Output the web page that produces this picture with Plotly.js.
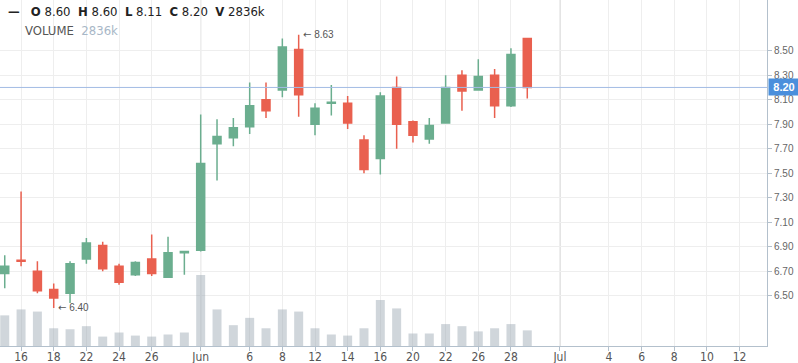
<!DOCTYPE html>
<html>
<head>
<meta charset="utf-8">
<script src="https://cdn.plot.ly/plotly-3.0.1.min.js"></script>
<style>
html,body{margin:0;padding:0;background:#fff;}
#chart{width:798px;height:363px;}
</style>
</head>
<body>
<div id="chart"></div>
<script>
// ---- data ----
const dates = ['2017-05-15','2017-05-16','2017-05-17','2017-05-18','2017-05-19','2017-05-22','2017-05-23','2017-05-24','2017-05-25','2017-05-26','2017-05-30','2017-05-31','2017-06-01','2017-06-02','2017-06-05','2017-06-06','2017-06-07','2017-06-08','2017-06-09','2017-06-12','2017-06-13','2017-06-14','2017-06-15','2017-06-16','2017-06-19','2017-06-20','2017-06-21','2017-06-22','2017-06-23','2017-06-26','2017-06-27','2017-06-28','2017-06-29'];
const futureDates = ['2017-06-30','2017-07-01','2017-07-02','2017-07-03','2017-07-04','2017-07-05','2017-07-06','2017-07-07','2017-07-08','2017-07-09','2017-07-10','2017-07-11','2017-07-12','2017-07-13','2017-07-14'];
const open  = [6.68,6.79,6.70,6.55,6.52,6.80,6.91,6.74,6.67,6.80,6.65,6.85,6.87,7.74,7.79,7.88,8.10,8.18,8.51,7.90,8.07,8.07,7.77,7.62,8.20,7.92,7.78,7.91,8.30,8.18,8.30,8.05,8.60];
const high  = [6.83,7.35,6.78,6.60,6.78,6.97,6.94,6.76,6.78,7.00,6.98,6.86,7.98,7.94,7.95,8.24,8.24,8.60,8.63,8.07,8.22,8.13,7.81,8.16,8.29,7.93,7.95,8.30,8.34,8.43,8.35,8.52,8.60];
const low   = [6.56,6.74,6.52,6.40,6.44,6.76,6.70,6.59,6.66,6.66,6.65,6.67,6.86,7.44,7.72,7.82,7.95,8.12,7.96,7.81,7.97,7.86,7.50,7.49,7.70,7.75,7.74,7.91,8.01,8.18,7.95,8.04,8.11];
const close = [6.74,6.78,6.54,6.48,6.76,6.93,6.72,6.61,6.77,6.68,6.85,6.86,7.58,7.80,7.87,8.05,8.01,8.53,8.14,8.03,8.08,7.91,7.53,8.13,7.90,7.81,7.89,8.20,8.17,8.29,8.05,8.47,8.20];
const volumeK = [5560,6640,6250,3220,3040,3600,1710,2450,1890,1710,2090,2450,12890,6640,3780,5110,3220,6640,6250,3220,2090,1890,3220,8350,6820,2270,2270,3980,3600,2650,3220,3980,2836];
const tickDates  = ['2017-05-16','2017-05-18','2017-05-22','2017-05-24','2017-05-26','2017-06-01','2017-06-06','2017-06-08','2017-06-12','2017-06-14','2017-06-16','2017-06-20','2017-06-22','2017-06-26','2017-06-28','2017-07-01','2017-07-04','2017-07-06','2017-07-08','2017-07-10','2017-07-12'];
const tickLabels = ['16','18','22','24','26','Jun','6','8','12','14','16','20','22','26','28','Jul','4','6','8','10','12'];
const monthStarts = ['2017-06-01','2017-07-01'];
const yTicks = [6.5,6.7,6.9,7.1,7.3,7.5,7.7,7.9,8.1,8.3,8.5];

// ---- styling ----
const GREEN = '#6bae8f', RED = '#e9604f';
const allDates = dates.concat(futureDates);
const n = dates.length - 1;
const fmt = v => v.toFixed(2);

let iMax = 0, iMin = 0;
for (let i = 0; i < high.length; i++) { if (high[i] > high[iMax]) iMax = i; if (low[i] < low[iMin]) iMin = i; }

const narrow = '"Liberation Sans Narrow", "DejaVu Sans Condensed", Arial, sans-serif';
const sans = '"Liberation Sans", Arial, sans-serif';
const arrow = '<span style="font-family:\'DejaVu Sans\'">←</span>\u00a0';

const traces = [
  { type: 'scatter', x: allDates, y: allDates.map(() => null), mode: 'lines',
    hoverinfo: 'skip', showlegend: false },
  { type: 'candlestick', x: dates, open: open, high: high, low: low, close: close,
    increasing: { line: { color: GREEN, width: 1.5 }, fillcolor: GREEN },
    decreasing: { line: { color: RED, width: 1.5 }, fillcolor: RED },
    whiskerwidth: 0, hoverinfo: 'skip', showlegend: false },
  { type: 'bar', x: dates, y: volumeK, yaxis: 'y2', width: 0.55,
    marker: { color: 'rgba(150,163,176,0.45)', line: { width: 0 } },
    hoverinfo: 'skip', showlegend: false }
];

const shapes = monthStarts.map(d => ({
  type: 'line', xref: 'x', yref: 'paper', x0: d, x1: d, y0: 0, y1: 1,
  line: { color: '#c2c2c2', width: 1 }, layer: 'below'
}));
shapes.push({ type: 'line', xref: 'paper', yref: 'y', x0: 0, x1: 1, y0: close[n], y1: close[n],
  line: { color: '#a2bbe4', width: 1 }, layer: 'above' });

const legendLine = '<b>—</b>\u00a0\u00a0\u00a0<b>O</b>\u00a0' + fmt(open[n]) +
  '\u00a0\u00a0<b>H</b>\u00a0' + fmt(high[n]) + '\u00a0\u00a0<b>L</b>\u00a0' + fmt(low[n]) +
  '\u00a0\u00a0<b>C</b>\u00a0' + fmt(close[n]) + '\u00a0\u00a0<b>V</b>\u00a0' + volumeK[n] + 'k';

const annotations = [
  { xref: 'paper', yref: 'paper', x: 0, y: 1, xanchor: 'left', yanchor: 'middle', xshift: 6, yshift: -11,
    text: legendLine, showarrow: false, font: { family: narrow, size: 13, color: '#222' } },
  { xref: 'paper', yref: 'paper', x: 0, y: 1, xanchor: 'left', yanchor: 'middle', xshift: 23, yshift: -30,
    text: 'VOLUME\u00a0\u00a0<span style="color:#a8b7c7">' + volumeK[n] + 'k</span>', showarrow: false,
    font: { family: narrow, size: 13, color: '#555' } },
  { xref: 'x', yref: 'y', x: dates[iMax], y: high[iMax], xanchor: 'left', yanchor: 'middle', xshift: 2,
    text: arrow + fmt(high[iMax]), showarrow: false, font: { family: sans, size: 10, color: '#555' } },
  { xref: 'x', yref: 'y', x: dates[iMin], y: low[iMin], xanchor: 'left', yanchor: 'middle', xshift: 2,
    text: arrow + fmt(low[iMin]), showarrow: false, font: { family: sans, size: 10, color: '#555' } },
  { xref: 'paper', yref: 'y', x: 1, y: close[n], xanchor: 'left', yanchor: 'middle', xshift: 1,
    text: '<b>' + fmt(close[n]) + '</b>', showarrow: false, bgcolor: '#4a8fdc', borderpad: 2, width: 26,
    font: { family: sans, size: 11, color: '#fff' } }
];

const layout = {
  width: 798, height: 363,
  margin: { l: 0, r: 31, t: 0, b: 17, pad: 0 },
  paper_bgcolor: '#fff', plot_bgcolor: '#fff',
  showlegend: false, dragmode: false, hovermode: false,
  xaxis: {
    type: 'category', categoryorder: 'array', categoryarray: allDates,
    range: [-0.29, 46.68], rangeslider: { visible: false },
    tickmode: 'array', tickvals: tickDates, ticktext: tickLabels,
    showgrid: true, gridcolor: '#eeeeee', gridwidth: 1,
    ticks: 'outside', ticklen: 4, tickcolor: '#b3c0cc', ticklabelstandoff: -4,
    showline: true, linecolor: '#b3c0cc', linewidth: 1,
    tickfont: { family: narrow, size: 12, color: '#555' },
    zeroline: false, fixedrange: true
  },
  yaxis: {
    side: 'right', range: [6.089, 8.914],
    tickmode: 'array', tickvals: yTicks, ticktext: yTicks.map(fmt),
    showgrid: true, gridcolor: '#eeeeee', gridwidth: 1,
    ticks: 'outside', ticklen: 4, tickcolor: '#b3c0cc',
    showline: true, linecolor: '#b3c0cc', linewidth: 1,
    tickfont: { family: sans, size: 10, color: '#666' },
    zeroline: false, fixedrange: true
  },
  yaxis2: {
    overlaying: 'y', range: [0, 62800], visible: false, showgrid: false, zeroline: false, fixedrange: true
  },
  shapes: shapes,
  annotations: annotations
};

Plotly.newPlot('chart', traces, layout, { displayModeBar: false, staticPlot: true });
</script>
</body>
</html>
